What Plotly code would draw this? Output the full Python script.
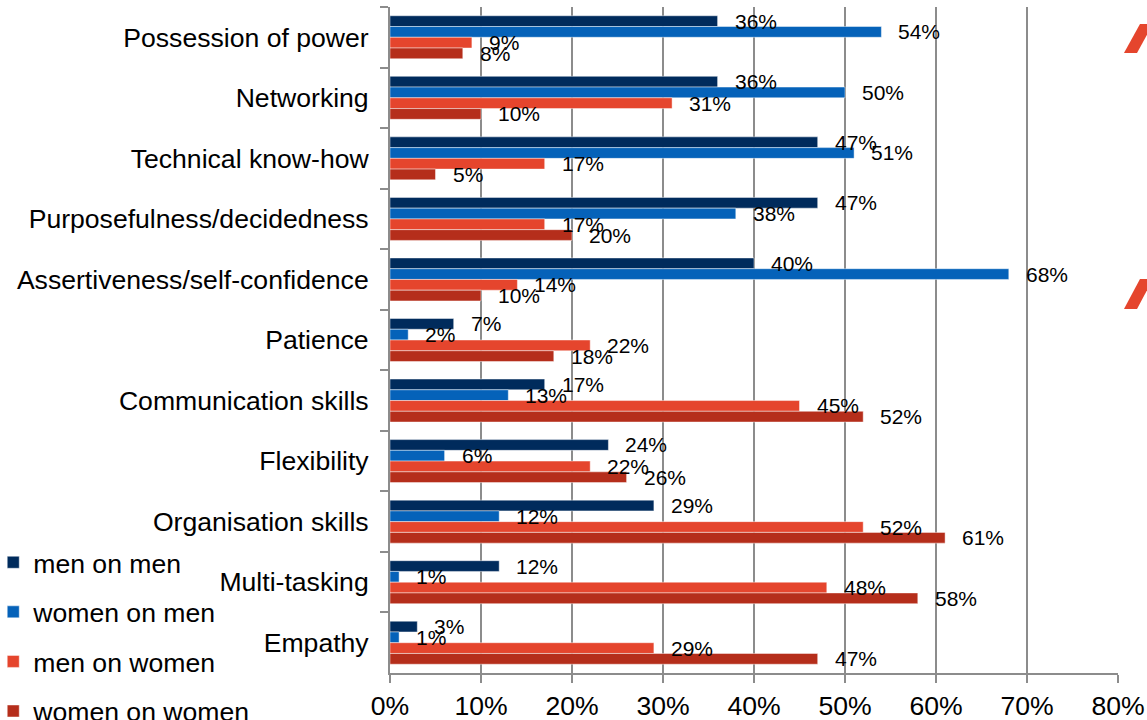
import plotly.graph_objects as go

# Survey: which qualities each group attributes to men and to women (share of respondents, %)
categories = [
    "Possession of power",
    "Networking",
    "Technical know-how",
    "Purposefulness/decidedness",
    "Assertiveness/self-confidence",
    "Patience",
    "Communication skills",
    "Flexibility",
    "Organisation skills",
    "Multi-tasking",
    "Empathy",
]

men_on_men = [36, 36, 47, 47, 40, 7, 17, 24, 29, 12, 3]
women_on_men = [54, 50, 51, 38, 68, 2, 13, 6, 12, 1, 1]
men_on_women = [9, 31, 17, 17, 14, 22, 45, 22, 52, 48, 29]
women_on_women = [8, 10, 5, 20, 10, 18, 52, 26, 61, 58, 47]

series_names = ["men on men", "women on men", "men on women", "women on women"]
series_values = [men_on_men, women_on_men, men_on_women, women_on_women]
series_colors = ["#002B5C", "#0562B9", "#E5452D", "#B52E1B"]

x_ticks = [0, 10, 20, 30, 40, 50, 60, 70, 80]

FONT = "Liberation Sans, Arial, sans-serif"
BARGAP = 0.29
GRID = "#8C8C8C"

fig = go.Figure()
for i, (name, vals, col) in enumerate(zip(series_names, series_values, series_colors)):
    fig.add_trace(go.Bar(
        y=categories,
        x=vals,
        name=name,
        orientation="h",
        marker=dict(color=col, line=dict(color="rgba(255,255,255,0.45)", width=1)),
        legendgroup=name,
        hoverinfo="skip",
    ))

# value labels placed just past the end of each bar
n = len(series_names)
slot = (1 - BARGAP) / n
annotations = []
for k, vals in enumerate(series_values):
    offset = (k - (n - 1) / 2) * slot
    for ci, v in enumerate(vals):
        annotations.append(dict(
            x=v, y=ci + offset, xref="x", yref="y",
            text=f"{v}%", showarrow=False,
            xanchor="left", yanchor="middle", xshift=15,
            font=dict(family=FONT, size=21, color="#000000"),
        ))

# decorative slashes on the right edge
shapes = [
    dict(type="path", xref="paper", yref="paper",
         path="M 1.0082,0.9310 L 1.0261,0.9310 L 1.0481,0.9745 L 1.0302,0.9745 Z",
         fillcolor="#E5452D", line=dict(width=0), layer="above"),
    dict(type="path", xref="paper", yref="paper",
         path="M 1.0082,0.5465 L 1.0261,0.5465 L 1.0481,0.5916 L 1.0302,0.5916 Z",
         fillcolor="#E5452D", line=dict(width=0), layer="above"),
]

fig.update_layout(
    width=1147, height=720,
    margin=dict(l=390, r=29, t=7, b=47, autoexpand=False),
    paper_bgcolor="white", plot_bgcolor="white",
    barmode="group", bargap=BARGAP, bargroupgap=0,
    font=dict(family=FONT, size=26.6, color="#000000"),
    annotations=annotations,
    shapes=shapes,
    showlegend=True,
    legend=dict(
        x=-0.545, y=0.202, xanchor="left", yanchor="top",
        traceorder="grouped", tracegroupgap=12,
        font=dict(family=FONT, size=26.6, color="#000000"),
        bgcolor="rgba(0,0,0,0)",
    ),
)

fig.update_xaxes(
    range=[0, 80], tickvals=x_ticks, ticktext=[f"{t}%" for t in x_ticks],
    showgrid=True, gridcolor=GRID, gridwidth=2,
    showline=True, linecolor=GRID, linewidth=2,
    ticks="outside", ticklen=8, tickcolor=GRID, tickwidth=2,
    zeroline=False, fixedrange=True,
    tickfont=dict(family=FONT, size=26.6, color="#000000"),
)
fig.update_yaxes(
    autorange="reversed", type="category",
    showgrid=False, showline=True, linecolor=GRID, linewidth=2,
    ticks="outside", ticklen=8, tickcolor=GRID, tickwidth=2,
    tickson="boundaries", ticklabelstandoff=14,
    zeroline=False, fixedrange=True,
    tickfont=dict(family=FONT, size=26.6, color="#000000"),
)

fig.write_html("out.html")
